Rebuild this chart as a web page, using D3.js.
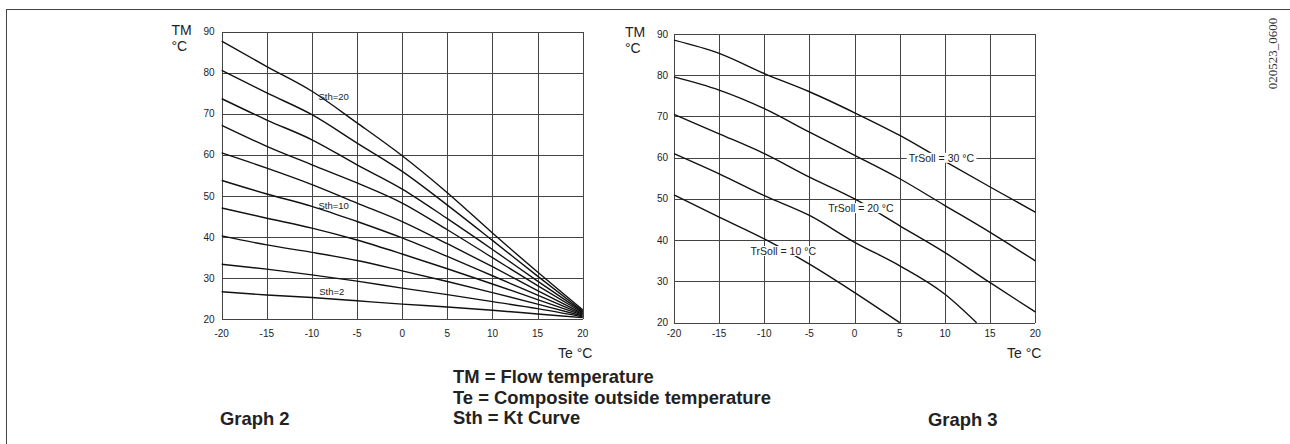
<!DOCTYPE html>
<html>
<head>
<meta charset="utf-8">
<script src="https://d3js.org/d3.v7.min.js"></script>
<style>
  body { margin: 0; background: #fff; }
  svg text { font-family: "Liberation Sans", Arial, sans-serif; fill: #222; }
  .tick { font-size: 10px; }
  .grid line { stroke: #444; stroke-width: 1; shape-rendering: crispEdges; }
  .frame { stroke: #444; stroke-width: 1; fill: none; shape-rendering: crispEdges; }
  .curve { fill: none; stroke: #111; stroke-width: 1.4; }
  .axis-title { font-size: 14px; }
  .unit { font-size: 14px; }
  .bold { font-weight: bold; font-size: 18.4px; }
  .code { font-family: "Liberation Serif", serif; font-size: 13px; fill: #333; }
</style>
</head>
<body>
<div id="chart"></div>
<script>
// axis ticks, shared by both graphs
var teTicks = [-20, -15, -10, -5, 0, 5, 10, 15, 20];
var tmTicks = [20, 30, 40, 50, 60, 70, 80, 90];

// Graph 2 : TM at each Te tick, one array per Sth curve
var sth2  = [26.7, 25.9, 25.3, 24.5, 23.7, 23.0, 22.2, 21.3, 20.4];
var sth4  = [33.4, 32.2, 30.8, 29.3, 27.6, 26.0, 24.3, 22.6, 20.6];
var sth6  = [40.3, 38.1, 36.3, 34.3, 31.8, 29.2, 26.5, 23.7, 20.8];
var sth8  = [47.1, 44.6, 42.2, 39.3, 35.9, 32.3, 28.6, 24.8, 21.0];
var sth10 = [53.8, 50.5, 47.5, 43.8, 39.8, 35.3, 30.6, 25.9, 21.2];
var sth12 = [60.5, 56.8, 52.8, 48.3, 43.8, 38.4, 32.8, 27.0, 21.4];
var sth14 = [67.2, 62.1, 57.6, 53.2, 48.3, 41.8, 35.0, 28.2, 21.6];
var sth16 = [73.7, 68.5, 63.7, 57.6, 51.7, 44.5, 37.0, 29.3, 21.8];
var sth18 = [80.6, 75.1, 69.8, 62.9, 56.0, 47.8, 39.2, 30.5, 22.0];
var sth20 = [87.7, 81.5, 75.5, 67.8, 59.8, 50.8, 41.0, 31.5, 22.3];
var sthSeries = [sth2, sth4, sth6, sth8, sth10, sth12, sth14, sth16, sth18, sth20];
var sthLabels = [
  { text: 'Sth=20', te: -7.6, tm: 74.3 },
  { text: 'Sth=10', te: -7.6, tm: 47.6 },
  { text: 'Sth=2',  te: -7.8, tm: 26.7 }
];

// Graph 3 : [Te, TM] points per TrSoll curve
var trSoll10 = [[-20, 51.0], [-15, 45.6], [-10, 40.3], [-5, 34.2], [0, 27.3], [5, 20.0]];
var trSoll15 = [[-20, 61.0], [-15, 56.1], [-10, 50.8], [-5, 46.0], [0, 39.5], [5, 33.8], [10, 26.9], [13.5, 20.0]];
var trSoll20 = [[-20, 70.5], [-15, 65.8], [-10, 61.0], [-5, 55.3], [0, 50.0], [5, 43.5], [10, 37.0], [15, 29.7], [20, 22.6]];
var trSoll25 = [[-20, 79.6], [-15, 76.4], [-10, 71.9], [-5, 66.2], [0, 60.6], [5, 54.9], [10, 48.4], [15, 41.9], [20, 35.0]];
var trSoll30 = [[-20, 88.5], [-15, 85.3], [-10, 80.4], [-5, 76.0], [0, 70.9], [5, 65.4], [10, 59.1], [15, 52.9], [20, 46.8]];
var trSollSeries = [trSoll10, trSoll15, trSoll20, trSoll25, trSoll30];
var trSollLabels = [
  { text: 'TrSoll = 30 °C', te: 9.6,  tm: 59.9 },
  { text: 'TrSoll = 20 °C', te: 0.7,  tm: 47.7 },
  { text: 'TrSoll = 10 °C', te: -7.9, tm: 37.3 }
];

var width = 1290, height = 444;

var svg = d3.select('#chart').append('svg')
    .attr('width', width)
    .attr('height', height);

// outer frame (top + left only)
svg.append('path')
    .attr('class', 'frame')
    .attr('d', 'M6.5,444V9.5H1290');

function drawGraph(box, series, labels, labelSize, labelBg) {
  var x = d3.scaleLinear().domain([-20, 20]).range([box.x0, box.x1]);
  var y = d3.scaleLinear().domain([20, 90]).range([box.y1, box.y0]);
  var g = svg.append('g');

  var grid = g.append('g').attr('class', 'grid');
  grid.selectAll('.v').data(teTicks).enter().append('line')
      .attr('x1', function(d) { return Math.round(x(d)) + 0.5; })
      .attr('x2', function(d) { return Math.round(x(d)) + 0.5; })
      .attr('y1', y(20)).attr('y2', y(90));
  grid.selectAll('.h').data(tmTicks).enter().append('line')
      .attr('y1', function(d) { return Math.round(y(d)) + 0.5; })
      .attr('y2', function(d) { return Math.round(y(d)) + 0.5; })
      .attr('x1', x(-20)).attr('x2', x(20));

  g.selectAll('.ty').data(tmTicks).enter().append('text')
      .attr('class', 'tick')
      .attr('x', box.x0 - box.yGap)
      .attr('y', function(d) { return y(d); })
      .attr('dy', '0.35em')
      .attr('text-anchor', 'end')
      .text(function(d) { return d; });
  g.selectAll('.tx').data(teTicks).enter().append('text')
      .attr('class', 'tick')
      .attr('x', function(d) { return x(d); })
      .attr('y', box.y1 + box.xGap)
      .attr('text-anchor', 'middle')
      .text(function(d) { return d; });

  var line = d3.line()
      .x(function(d) { return x(d[0]); })
      .y(function(d) { return y(d[1]); })
      .curve(d3.curveMonotoneX);

  g.selectAll('.curve').data(series).enter().append('path')
      .attr('class', 'curve')
      .attr('d', line);

  var lab = g.selectAll('.lab').data(labels).enter().append('g');
  var txt = lab.append('text')
      .attr('x', function(d) { return x(d.te); })
      .attr('y', function(d) { return y(d.tm); })
      .attr('dy', '0.35em')
      .attr('text-anchor', 'middle')
      .style('font-size', labelSize + 'px')
      .text(function(d) { return d.text; });
  if (labelBg) {
    txt.each(function() {
      var b = this.getBBox();
      d3.select(this.parentNode).insert('rect', 'text')
          .attr('x', b.x - 2).attr('y', b.y + 1)
          .attr('width', b.width + 4).attr('height', b.height - 2)
          .attr('fill', '#fff');
    });
  }

  g.append('text').attr('class', 'axis-title')
      .attr('x', box.tmX).attr('y', box.tmY).text('TM');
  g.append('text').attr('class', 'axis-title')
      .attr('x', box.tmX).attr('y', box.tmY + 16).text('°C');
  g.append('text').attr('class', 'unit')
      .attr('x', box.teX).attr('y', box.teY).text('Te °C');
}

// graph 2 (Sth curves) and graph 3 (TrSoll curves)
drawGraph({ x0: 221.7, x1: 582.7, y0: 31.7, y1: 319.3, yGap: 7, xGap: 17.5,
            tmX: 171.5, tmY: 35, teX: 558, teY: 357.5 },
          sthSeries.map(function(s) { return s.map(function(v, i) { return [teTicks[i], v]; }); }),
          sthLabels, 9.5, false);
drawGraph({ x0: 674, x1: 1035.3, y0: 34, y1: 322.7, yGap: 6, xGap: 14.7,
            tmX: 625, tmY: 37, teX: 1007, teY: 358 },
          trSollSeries, trSollLabels, 10.5, true);

// legend text block
var notes = ['TM = Flow temperature', 'Te = Composite outside temperature', 'Sth = Kt Curve'];
svg.selectAll('.note').data(notes).enter().append('text')
    .attr('class', 'bold')
    .attr('x', 453)
    .attr('y', function(d, i) { return 383 + i * 20.5; })
    .text(function(d) { return d; });

svg.append('text').attr('class', 'bold').attr('x', 220).attr('y', 425).text('Graph 2');
svg.append('text').attr('class', 'bold').attr('x', 928).attr('y', 426).text('Graph 3');

svg.append('text').attr('class', 'code')
    .attr('transform', 'translate(1277,53.5) rotate(-90)')
    .attr('text-anchor', 'middle')
    .text('020523_0600');
</script>
</body>
</html>
